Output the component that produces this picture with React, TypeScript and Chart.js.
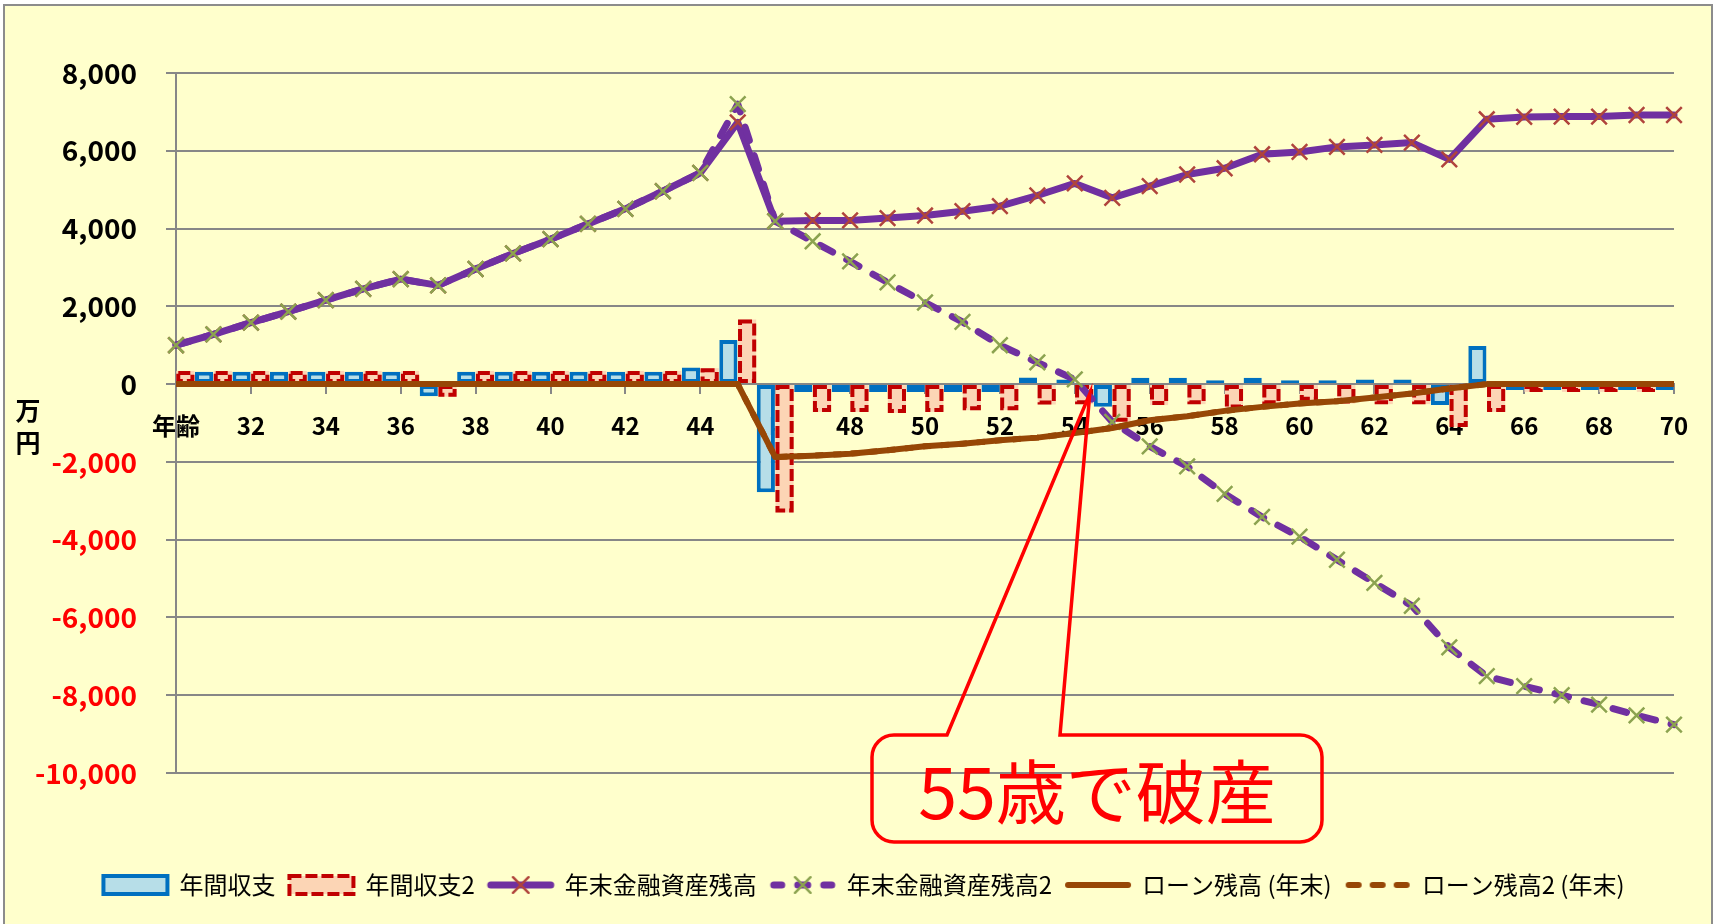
import React, { useEffect, useRef } from 'react';
import { Chart, registerables } from 'chart.js';

Chart.register(...registerables);

const FONT = '"Noto Sans CJK JP", "Noto Sans", sans-serif';

const ages = ['30','31','32','33','34','35','36','37','38','39','40','41','42','43','44','45','46','47','48','49','50','51','52','53','54','55','56','57','58','59','60','61','62','63','64','65','66','67','68','69','70'];

const yTicks = [8000, 6000, 4000, 2000, 0, -2000, -4000, -6000, -8000, -10000];

const balance1 = [320,320,320,320,320,320,320,-310,320,320,320,320,320,320,430,1135,-2780,-200,-200,-200,-200,-200,-200,170,120,-585,165,165,100,165,100,100,120,120,-540,980,-150,-150,-150,-150,-150];

const balance2 = [340,340,340,340,340,340,340,-325,340,340,340,340,340,340,410,1660,-3300,-714,-714,-740,-714,-670,-670,-525,-515,-970,-540,-515,-630,-515,-430,-500,-515,-515,-1100,-715,-200,-200,-200,-200,-200];

const assets1 = [1000,1280,1580,1866,2160,2450,2700,2540,2960,3360,3726,4120,4508,4960,5430,6730,4190,4210,4210,4270,4335,4447,4575,4850,5160,4790,5090,5390,5550,5910,5970,6100,6150,6210,5780,6810,6870,6880,6880,6920,6920];

const assets2 = [1000,1280,1580,1866,2160,2450,2700,2540,2960,3360,3726,4120,4508,4960,5430,7200,4190,3673,3157,2615,2099,1600,1000,560,120,-970,-1600,-2116,-2823,-3416,-3923,-4516,-5110,-5700,-6770,-7510,-7768,-8000,-8240,-8516,-8757];

const loan1 = [0,0,0,0,0,0,0,0,0,0,0,0,0,0,0,0,-1876,-1840,-1790,-1703,-1600,-1531,-1445,-1376,-1256,-1130,-929,-826,-688,-585,-499,-439,-344,-241,-112,0,0,0,0,0,0];

const loan2 = [0,0,0,0,0,0,0,0,0,0,0,0,0,0,0,0,-1876,-1840,-1790,-1703,-1600,-1531,-1445,-1376,-1256,-1130,-929,-826,-688,-585,-499,-439,-344,-241,-112,0,0,0,0,0,0];

const seriesLabels = ['年間収支', '年間収支2', '年末金融資産残高', '年末金融資産残高2', 'ローン残高 (年末)', 'ローン残高2 (年末)'];

const calloutText = '55歳で破産';
const calloutAgeIndex = 24.4;
const calloutValue = -250;

const PURPLE = '#7030A0';
const BROWN = '#974706';
const GRID = '#878787';
const RED_MARK = '#B0443C';
const GREEN_MARK = '#8CA350';

function drawCross(ctx: CanvasRenderingContext2D, x: number, y: number, r: number, color: string) {
  ctx.save();
  ctx.strokeStyle = color;
  ctx.lineWidth = 2.5;
  ctx.setLineDash([]);
  const d = r * Math.SQRT1_2;
  ctx.beginPath();
  ctx.moveTo(x - d, y - d); ctx.lineTo(x + d, y + d);
  ctx.moveTo(x + d, y - d); ctx.lineTo(x - d, y + d);
  ctx.stroke();
  ctx.restore();
}

function makeSymbols(): HTMLCanvasElement[] {
  const W = 70, H = 24;
  const mk = (draw: (c: CanvasRenderingContext2D) => void) => {
    const cv = document.createElement('canvas');
    cv.width = W; cv.height = H;
    const c = cv.getContext('2d')!;
    draw(c);
    return cv;
  };
  return [
    mk(c => {
      c.fillStyle = '#B7DEE8'; c.fillRect(3, 3, 64, 18);
      c.strokeStyle = '#0070C0'; c.lineWidth = 4; c.strokeRect(3, 3, 64, 18);
    }),
    mk(c => {
      c.fillStyle = '#FCD5B5'; c.fillRect(3, 3, 64, 18);
      c.strokeStyle = '#C00000'; c.lineWidth = 4; c.setLineDash([12, 4]); c.strokeRect(3, 3, 64, 18);
    }),
    mk(c => {
      c.strokeStyle = PURPLE; c.lineWidth = 7; c.lineCap = 'round';
      c.beginPath(); c.moveTo(5, 12); c.lineTo(65, 12); c.stroke();
      drawCross(c, 35, 12, 11, RED_MARK);
    }),
    mk(c => {
      c.strokeStyle = PURPLE; c.lineWidth = 7; c.lineCap = 'round';
      c.beginPath(); c.moveTo(6, 12); c.lineTo(14, 12); c.moveTo(30, 12); c.lineTo(40, 12); c.moveTo(56, 12); c.lineTo(64, 12); c.stroke();
      drawCross(c, 35, 12, 11, GREEN_MARK);
    }),
    mk(c => {
      c.strokeStyle = BROWN; c.lineWidth = 6; c.lineCap = 'round';
      c.beginPath(); c.moveTo(5, 12); c.lineTo(65, 12); c.stroke();
    }),
    mk(c => {
      c.strokeStyle = BROWN; c.lineWidth = 6; c.lineCap = 'round';
      c.beginPath(); c.moveTo(6, 12); c.lineTo(16, 12); c.moveTo(30, 12); c.lineTo(40, 12); c.moveTo(54, 12); c.lineTo(64, 12); c.stroke();
    }),
  ];
}

const framePlugin = {
  id: 'frame',
  beforeDraw(chart: any) {
    const { ctx, width, height } = chart;
    ctx.save();
    ctx.fillStyle = '#FFFFFF';
    ctx.fillRect(0, 0, width, height);
    ctx.fillStyle = '#FFFFCC';
    ctx.fillRect(4, 5, width - 8, height);
    ctx.strokeStyle = '#8C8C8C';
    ctx.lineWidth = 2;
    ctx.strokeRect(4, 5, width - 8, height + 10);
    ctx.restore();
  },
};

const dashedBarsPlugin = {
  id: 'dashedBars',
  afterDatasetDraw(chart: any, args: any) {
    if (args.index !== 1) return;
    const { ctx, chartArea } = chart;
    ctx.save();
    ctx.beginPath();
    ctx.rect(chartArea.left, chartArea.top, chartArea.right - chartArea.left, chartArea.bottom - chartArea.top);
    ctx.clip();
    ctx.strokeStyle = '#C00000';
    ctx.lineWidth = 4;
    ctx.setLineDash([12, 4]);
    args.meta.data.forEach((el: any) => {
      const p = el.getProps(['x', 'y', 'base', 'width'], true);
      const left = p.x - p.width / 2 + 2;
      const top = Math.min(p.y, p.base) + 2;
      const w = p.width - 4;
      const h = Math.abs(p.base - p.y) - 4;
      if (h <= 0) return;
      ctx.strokeRect(left, top, w, h);
    });
    ctx.restore();
  },
};

const annotationPlugin = {
  id: 'annot',
  afterDraw(chart: any) {
    const { ctx, scales } = chart;
    ctx.save();
    ctx.fillStyle = '#000';
    ctx.font = `bold 25px ${FONT}`;
    ctx.textAlign = 'center';
    ctx.textBaseline = 'middle';
    ctx.fillText('万', 28, 410);
    ctx.fillText('円', 28, 442);

    const tipX = scales.x.getPixelForValue(calloutAgeIndex);
    const tipY = scales.y.getPixelForValue(calloutValue);
    const bx0 = 872, by0 = 735, bx1 = 1322, by1 = 842, r = 22;
    const lx = 947, rx = 1060;
    ctx.strokeStyle = '#FF0000';
    ctx.lineWidth = 3.5;
    ctx.lineJoin = 'miter';
    ctx.beginPath();
    ctx.moveTo(lx, by0);
    ctx.lineTo(tipX, tipY);
    ctx.lineTo(rx, by0);
    ctx.lineTo(bx1 - r, by0);
    ctx.arcTo(bx1, by0, bx1, by0 + r, r);
    ctx.lineTo(bx1, by1 - r);
    ctx.arcTo(bx1, by1, bx1 - r, by1, r);
    ctx.lineTo(bx0 + r, by1);
    ctx.arcTo(bx0, by1, bx0, by1 - r, r);
    ctx.lineTo(bx0, by0 + r);
    ctx.arcTo(bx0, by0, bx0 + r, by0, r);
    ctx.closePath();
    ctx.stroke();
    ctx.fillStyle = '#FF0000';
    ctx.font = `70px ${FONT}`;
    ctx.textAlign = 'center';
    ctx.textBaseline = 'middle';
    ctx.fillText(calloutText, 1097, 792);
    ctx.restore();
  },
};

export default function App() {
  const ref = useRef<HTMLCanvasElement>(null);
  useEffect(() => {
    if (!ref.current) return;
    const symbols = makeSymbols();
    const chart = new Chart(ref.current, {
      type: 'bar',
      data: {
        labels: ages,
        datasets: [
          { type: 'bar', label: seriesLabels[0], data: balance1, backgroundColor: '#B7DEE8', borderColor: '#0070C0', borderWidth: 4, borderSkipped: false, categoryPercentage: 1, barPercentage: 0.97, order: 5, clip: 0 } as any,
          { type: 'bar', label: seriesLabels[1], data: balance2, backgroundColor: '#FCD5B5', borderWidth: 0, borderSkipped: false, categoryPercentage: 1, barPercentage: 0.97, order: 6, clip: 0 } as any,
          { type: 'line', label: seriesLabels[2], data: assets1, borderColor: PURPLE, borderWidth: 7, borderJoinStyle: 'round', borderCapStyle: 'round', tension: 0, fill: false, pointStyle: 'crossRot', pointRadius: 11, pointBorderColor: RED_MARK, pointBackgroundColor: 'transparent', pointBorderWidth: 2.5, order: 4 } as any,
          { type: 'line', label: seriesLabels[3], data: assets2, borderColor: PURPLE, borderWidth: 7, borderDash: [14, 16], borderJoinStyle: 'round', borderCapStyle: 'round', tension: 0, fill: false, pointStyle: 'crossRot', pointRadius: 11, pointBorderColor: GREEN_MARK, pointBackgroundColor: 'transparent', pointBorderWidth: 2.5, order: 3 } as any,
          { type: 'line', label: seriesLabels[4], data: loan1, borderColor: BROWN, borderWidth: 6, borderJoinStyle: 'round', tension: 0, fill: false, pointRadius: 0, order: 2 } as any,
          { type: 'line', label: seriesLabels[5], data: loan2, borderColor: BROWN, borderWidth: 6, borderDash: [8, 10], borderJoinStyle: 'round', tension: 0, fill: false, pointRadius: 0, order: 1 } as any,
        ],
      },
      options: {
        responsive: false,
        animation: false,
        events: [],
        layout: { padding: { left: 12, right: 0, top: 73, bottom: 17 } },
        scales: {
          x: {
            type: 'category',
            position: { y: 0 } as any,
            offset: false,
            grid: {
              offset: false,
              drawOnChartArea: false,
              drawTicks: true,
              tickLength: 9,
              lineWidth: 2,
              color: GRID,
              tickColor: (c: any) => (c.index % 2 === 0 ? GRID : 'rgba(0,0,0,0)'),
            },
            border: { color: GRID, width: 2 },
            ticks: {
              autoSkip: false,
              maxRotation: 0,
              minRotation: 0,
              padding: 18,
              color: '#000',
              font: { family: FONT, size: 24, weight: 'bold' },
              callback: (_v: any, i: number) => (i % 2 !== 0 ? '' : i === 0 ? '年齢' : ages[i]),
            },
          } as any,
          y: {
            type: 'linear',
            position: 'left',
            min: yTicks[yTicks.length - 1],
            max: yTicks[0],
            grid: { color: GRID, lineWidth: 2, tickLength: 10, drawTicks: true },
            border: { color: GRID, width: 2 },
            ticks: {
              stepSize: 2000,
              padding: 29,
              color: (c: any) => (c.tick && c.tick.value < 0 ? '#FF0000' : '#000000'),
              font: { family: FONT, size: 28, weight: 'bold' },
              callback: (v: any) => Number(v).toLocaleString('en-US'),
            },
            afterFit: (s: any) => { s.width = 164; },
          } as any,
          y2: {
            type: 'linear',
            position: 'right',
            display: true,
            grid: { display: false },
            border: { display: false },
            ticks: { display: false },
            afterFit: (s: any) => { s.width = 42; },
          } as any,
        },
        plugins: {
          tooltip: { enabled: false },
          title: { display: false },
          legend: {
            display: true,
            position: 'bottom',
            title: { display: true, text: ' ', padding: { top: 74, bottom: 0 }, font: { size: 10 } },
            labels: {
              usePointStyle: true,
              pointStyleWidth: 64,
              boxHeight: 24,
              padding: 14,
              color: '#000',
              font: { family: FONT, size: 24 },
              generateLabels: (ch: any) => ch.data.datasets.map((ds: any, i: number) => ({
                text: ds.label,
                pointStyle: symbols[i],
                datasetIndex: i,
                hidden: false,
                lineWidth: 0,
                fillStyle: 'rgba(0,0,0,0)',
                strokeStyle: 'rgba(0,0,0,0)',
                fontColor: '#000',
              })),
            },
          } as any,
        },
      } as any,
      plugins: [framePlugin, dashedBarsPlugin, annotationPlugin],
    });
    return () => chart.destroy();
  }, []);
  return (
    <div style={{ position: 'absolute', left: 0, top: 0, width: 1716, height: 924 }}>
      <canvas ref={ref} width={1716} height={924} style={{ display: 'block', width: 1716, height: 924 }} />
    </div>
  );
}
